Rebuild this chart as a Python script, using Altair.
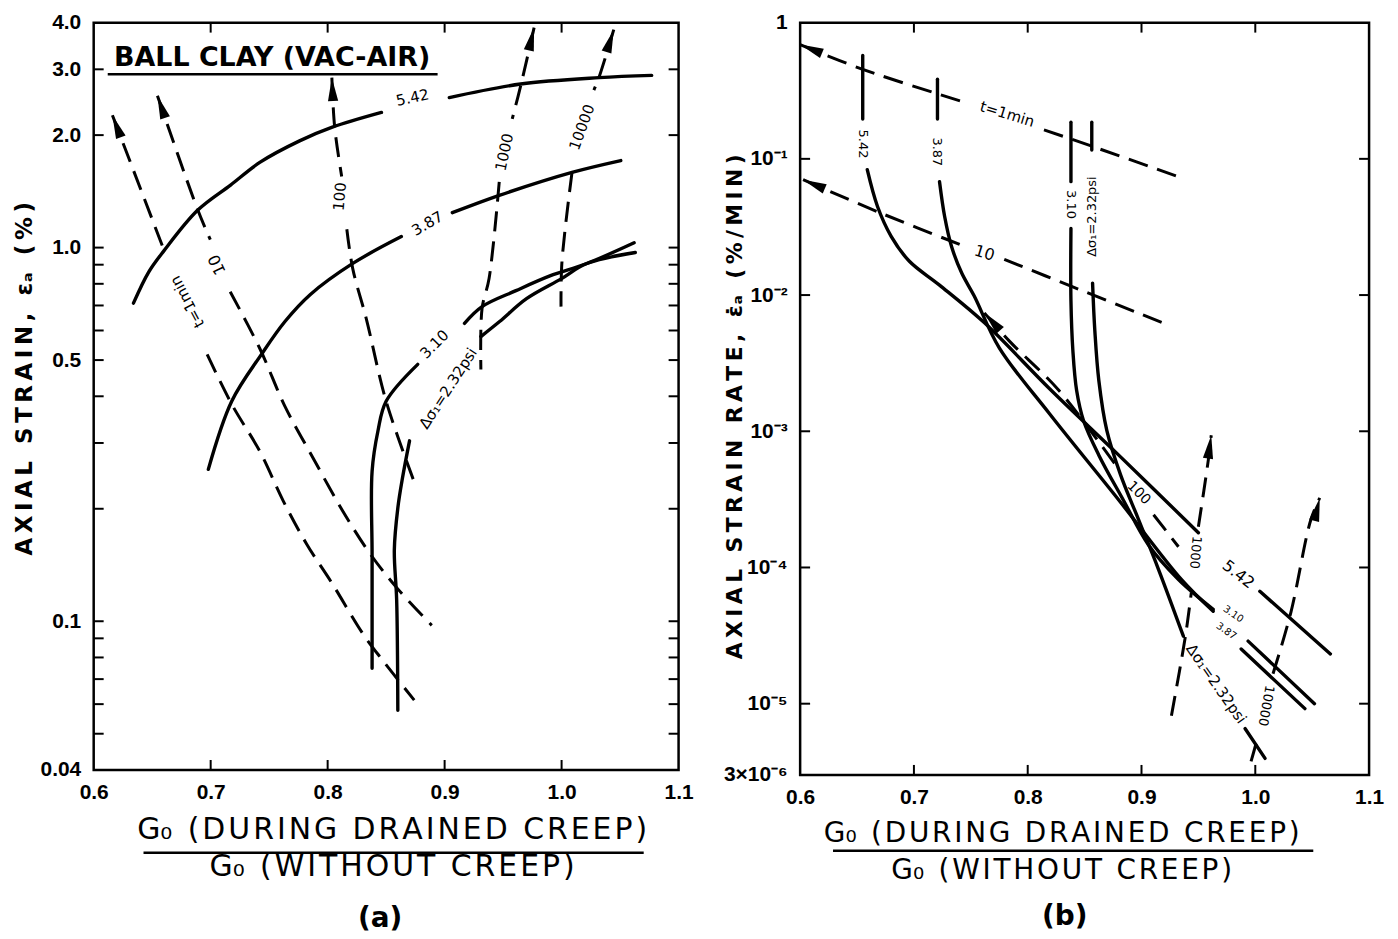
import unicodedata
import altair as alt
import pandas as pd

# ================= panel (a): axial strain vs Go ratio =================
# solid curves: stress level (psi); s = segment id (gap where a label sits)
A542_g = [0.634, 0.647, 0.660, 0.689, 0.717, 0.742, 0.776, 0.804, 0.846, 0.904, 0.965, 1.032, 1.077]
A542_v = [0.71, 0.86, 0.98, 1.26, 1.47, 1.69, 1.93, 2.10, 2.30, 2.52, 2.74, 2.85, 2.89]
A542_s = [0, 0, 0, 0, 0, 0, 0, 0, 0, 1, 1, 1, 1]

A387_g = [0.698, 0.718, 0.744, 0.7635, 0.785, 0.8215, 0.863, 0.9066, 0.9467, 1.0089, 1.0506]
A387_v = [0.255, 0.388, 0.521, 0.634, 0.748, 0.907, 1.07, 1.24, 1.38, 1.59, 1.71]
A387_s = [0, 0, 0, 0, 0, 0, 0, 1, 1, 1, 1]

A310_g = [0.838, 0.838, 0.838, 0.843, 0.850, 0.877, 0.917, 0.932, 0.961, 0.990, 1.021, 1.062]
A310_v = [0.0748, 0.15, 0.252, 0.323, 0.388, 0.487, 0.627, 0.695, 0.767, 0.84, 0.905, 1.03]
A310_s = [0, 0, 0, 0, 0, 0, 1, 1, 1, 1, 1, 1]

A232_g = [0.860, 0.859, 0.857, 0.860, 0.864, 0.870, 0.931, 0.947, 0.970, 1.000, 1.021, 1.063]
A232_v = [0.0578, 0.114, 0.155, 0.201, 0.242, 0.304, 0.578, 0.634, 0.73, 0.826, 0.905, 0.97]
A232_s = [0, 0, 0, 0, 0, 0, 1, 1, 1, 1, 1, 1]

# dashed curves: elapsed time (min)
AT1_g = [0.616, 0.660, 0.697, 0.718, 0.742, 0.762, 0.782, 0.804, 0.830, 0.847, 0.874]
AT1_v = [2.26, 0.986, 0.518, 0.381, 0.285, 0.210, 0.161, 0.126, 0.0927, 0.0786, 0.0615]
AT1_s = [0, 0, 1, 1, 1, 1, 1, 1, 1, 1, 1]

AT10_g = [0.6545, 0.6886, 0.6997, 0.7167, 0.742, 0.7635, 0.7874, 0.813, 0.836, 0.859, 0.889]
AT10_v = [2.55, 1.27, 1.05, 0.762, 0.537, 0.376, 0.274, 0.197, 0.152, 0.123, 0.0975]
AT10_s = [0, 0, 0, 1, 1, 1, 1, 1, 1, 1, 1]

AT100_g = [0.8036, 0.806, 0.812, 0.8164, 0.8215, 0.833, 0.850, 0.876]
AT100_v = [2.85, 2.10, 1.55, 1.12, 0.877, 0.646, 0.388, 0.227]
AT100_s = [0, 0, 0, 1, 1, 1, 1, 1]

AT1000_g = [0.9765, 0.9654, 0.9578, 0.9467, 0.938, 0.932, 0.931]
AT1000_v = [3.88, 2.74, 2.21, 1.50, 0.826, 0.687, 0.472]
AT1000_s = [0, 0, 0, 1, 1, 1, 1]

AT10000_g = [1.0446, 1.0319, 1.0276, 1.0089, 1.0003, 0.9995]
AT10000_v = [3.83, 2.85, 2.64, 1.59, 0.916, 0.695]
AT10000_s = [0, 0, 0, 1, 1, 1]

# arrow heads (tip position and direction, degrees clockwise from up)
AARR_g = [0.616, 0.6545, 0.8036, 0.9765, 1.0446]
AARR_v = [2.26, 2.55, 2.85, 3.88, 3.83]
AARR_a = [339, 341, 357, 13, 18]

# curve labels
ALAB_t = ["5.42", "3.87", "3.10", "Δσ₁=2.32psi", "t=1min", "10", "100", "1000", "10000"]
ALAB_g = [0.8726, 0.8853, 0.8913, 0.9030, 0.680, 0.7056, 0.8104, 0.951, 1.0174]
ALAB_v = [2.52, 1.16, 0.551, 0.420, 0.716, 0.90, 1.37, 1.80, 2.10]
ALAB_a = [348, 330, 315, 303, 242, 245, 275, 282, 290]
ALAB_s = [15, 15, 15, 15, 15, 16, 15, 15, 15]

A_YLAB = [4, 3, 2, 1, 0.5, 0.1, 0.04]
A_YTICK = [3, 2, 1, 0.9, 0.8, 0.7, 0.6, 0.5, 0.4, 0.3, 0.2, 0.1, 0.09, 0.08, 0.07, 0.06, 0.05]

# ================= panel (b): axial strain rate vs Go ratio =================
B542_g = [0.655, 0.655, 0.659, 0.668, 0.680, 0.696, 0.7225, 0.762, 0.819, 0.880, 0.950, 1.004, 1.066]
B542_v = [0.574, 0.196, 0.0832, 0.0447, 0.0270, 0.0177, 0.01183, 0.00625, 0.00206, 0.000668, 0.000180, 6.68e-5, 2.32e-5]
B542_s = [0, 0, 1, 1, 1, 1, 1, 1, 1, 1, 1, 2, 2]

B387_g = [0.7207, 0.7207, 0.7225, 0.727, 0.733, 0.742, 0.753, 0.775, 0.819, 0.880, 0.935, 0.963, 0.9876, 1.0436]
B387_v = [0.384, 0.196, 0.0679, 0.0377, 0.0228, 0.0145, 0.00984, 0.0041, 0.00135, 0.000313, 8.17e-5, 4.77e-5, 2.52e-5, 9.2e-6]
B387_s = [0, 0, 1, 1, 1, 1, 1, 1, 1, 1, 1, 1, 2, 2]

B310_g = [0.838, 0.838, 0.838, 0.838, 0.8397, 0.843, 0.849, 0.8625, 0.884, 0.906, 0.9325, 0.963, 0.9937, 1.052]
B310_v = [0.186, 0.068, 0.0308, 0.00904, 0.0039, 0.00199, 0.0012, 0.000668, 0.000313, 0.000147, 8.17e-5, 4.93e-5, 2.88e-5, 1.0e-5]
B310_s = [0, 0, 1, 1, 1, 1, 1, 1, 1, 1, 1, 1, 2, 2]

B232_g = [0.8563, 0.8563, 0.857, 0.859, 0.8625, 0.8695, 0.8817, 0.8975, 0.915, 0.9368, 0.991, 1.0086]
B232_v = [0.186, 0.116, 0.01224, 0.00546, 0.00236, 0.001016, 0.000477, 0.000224, 9.66e-5, 3.13e-5, 6.57e-6, 3.97e-6]
B232_s = [0, 0, 1, 1, 1, 1, 1, 1, 1, 1, 2, 2]

BT1_g = [0.600, 0.655, 0.7444, 0.8143, 0.838, 0.9325]
BT1_v = [0.69, 0.454, 0.2606, 0.163, 0.14, 0.0739]
BT1_s = [0, 0, 0, 1, 1, 1]

BT10_g = [0.6026, 0.674, 0.7444, 0.7794, 0.838, 0.921]
BT10_v = [0.0703, 0.039, 0.0228, 0.0183, 0.01163, 0.00614]
BT10_s = [0, 0, 0, 1, 1, 1]

BT100_g = [0.7619, 0.7837, 0.8275, 0.8773, 0.9106, 0.9325]
BT100_v = [0.0074, 0.00461, 0.00199, 0.000565, 0.000244, 0.000142]
BT100_s = [0, 0, 0, 0, 1, 1]

BT1000_g = [0.9263, 0.9386, 0.9438, 0.950, 0.9587, 0.9613]
BT1000_v = [8.17e-6, 3.13e-5, 6.57e-5, 0.000199, 0.000614, 0.000935]
BT1000_s = [0, 0, 0, 1, 1, 1]

BT10000_g = [0.9963, 1.0007, 1.0156, 1.0313, 1.0488, 1.0567]
BT10000_v = [3.77e-6, 5.1e-6, 1.66e-5, 4.69e-5, 0.000224, 0.000324]
BT10000_s = [0, 0, 1, 1, 1, 1]

BARR_g = [0.600, 0.6026, 0.7619, 0.9613, 1.0567]
BARR_v = [0.69, 0.0703, 0.0074, 0.000935, 0.000324]
BARR_a = [292, 293, 318, 8, 14]

BLAB_t = ["5.42", "3.87", "3.10", "Δσ₁=2.32psi", "t=1min", "10", "100", "1000", "10000",
          "5.42", "3.10", "3.87", "Δσ₁=2.32psi"]
BLAB_g = [0.655, 0.7207, 0.838, 0.8563, 0.782, 0.7619, 0.8975, 0.9473, 1.0094,
          0.985, 0.9806, 0.9745, 0.9657]
BLAB_v = [0.1286, 0.1125, 0.0462, 0.0377, 0.213, 0.0203, 0.000352, 0.000129, 9.66e-6,
          8.89e-5, 4.54e-5, 3.41e-5, 1.4e-5]
BLAB_a = [90, 90, 90, 270, 17, 17, 45, 95, 100, 38, 35, 35, 55]
BLAB_s = [13, 13, 13, 13, 15, 16, 14, 13, 13, 16, 10, 10, 15]

B_YLAB = [1, 0.1, 0.01, 0.001, 1e-4, 1e-5, 3e-6]
B_YTICK = [0.1, 0.01, 0.001, 1e-4, 1e-5]

X_LAB = [0.6, 0.7, 0.8, 0.9, 1.0, 1.1]
X_TICK = [0.7, 0.8, 0.9, 1.0]

# ================= styling =================
FONT_TICK = "Liberation Sans Narrow, Liberation Sans, Arial, sans-serif"
FONT_TITLE = "DejaVu Sans, sans-serif"
FONT_FRAC = "DejaVu Sans, sans-serif"
FONT_NOTE = "DejaVu Sans, sans-serif"
ARROW = "M0,0L-0.5,2.3L0.5,2.3Z"


def spaced(s, sep="\u2009"):
    out = ""
    for ch in s:
        if out and not unicodedata.combining(ch) and ch not in "ₐ₀":
            out += sep
        out += ch
    return out


def lines_df(curves):
    rows = []
    for name, gs, vs, ss in curves:
        for i, (g, v, s) in enumerate(zip(gs, vs, ss)):
            rows.append({"key": f"{name}|{s}", "i": i, "g": g, "v": v})
    return pd.DataFrame(rows)


def panel(solid_curves, dashed_curves, arr, lab, ylab, ytick, ydomain, ylabel_expr,
          ytitle, ytitle_size, ytitle_x, ytitle_y, xtitle_x, frac_size, W, H, bar,
          title, title_dx, title_off, extra=None):
    xaxis = alt.Axis(values=X_LAB, format=".1f", ticks=False, domain=False, grid=False,
                     labelFont=FONT_TICK, labelFontSize=21, labelFontWeight="bold",
                     labelColor="black", labelPadding=12, labelFlush=False, labelOverlap=False,
                     title=[spaced("G₀ (DURING DRAINED CREEP)", "\u200a"),
                            spaced("G₀ (WITHOUT CREEP)", "\u200a")],
                     titleFont=FONT_FRAC, titleFontSize=frac_size, titleFontWeight="normal",
                     titleColor="black", titleLineHeight=37, titlePadding=12, titleX=xtitle_x)
    yaxis = alt.Axis(values=ylab, labelExpr=ylabel_expr, ticks=False, domain=False, grid=False,
                     labelFont=FONT_TICK, labelFontSize=21, labelFontWeight="bold",
                     labelColor="black", labelPadding=13, labelOverlap=False,
                     title=spaced(ytitle), titleFont=FONT_TITLE, titleFontSize=ytitle_size,
                     titleFontWeight="bold", titleColor="black", titleAngle=270,
                     titleX=ytitle_x, titleY=ytitle_y, titleAlign="center", titleBaseline="middle")
    X = alt.X("g:Q", scale=alt.Scale(domain=[0.6, 1.1], nice=False, zero=False), axis=xaxis)
    Y = alt.Y("v:Q", scale=alt.Scale(type="log", domain=ydomain, nice=False), axis=yaxis)

    solid = alt.Chart(lines_df(solid_curves)).mark_line(
        color="black", strokeWidth=3.4, interpolate="catmull-rom", strokeCap="round"
    ).encode(x=X, y=Y, detail="key:N", order="i:Q")
    dashed = alt.Chart(lines_df(dashed_curves)).mark_line(
        color="black", strokeWidth=3, strokeDash=[20, 10], interpolate="catmull-rom"
    ).encode(x=X, y=Y, detail="key:N", order="i:Q")
    arrows = alt.Chart(pd.DataFrame({"g": arr[0], "v": arr[1], "a": arr[2]})).mark_point(
        shape=ARROW, filled=True, color="black", opacity=1, size=420
    ).encode(x=X, y=Y, angle=alt.Angle("a:Q", scale=None))
    labels = alt.Chart(pd.DataFrame({"t": lab[0], "g": lab[1], "v": lab[2], "a": lab[3], "s": lab[4]})).mark_text(
        font=FONT_NOTE, color="black", align="center", baseline="middle"
    ).encode(x=X, y=Y, text="t:N", angle=alt.Angle("a:Q", scale=None), size=alt.Size("s:Q", scale=None))

    ytk = pd.DataFrame({"v": ytick})
    xtk = pd.DataFrame({"g": X_TICK})
    tk_l = alt.Chart(ytk).mark_rule(color="black", strokeWidth=2).encode(y=Y, x=alt.value(0), x2=alt.value(10))
    tk_r = alt.Chart(ytk).mark_rule(color="black", strokeWidth=2).encode(y=Y, x=alt.value(W - 10), x2=alt.value(W))
    tk_b = alt.Chart(xtk).mark_rule(color="black", strokeWidth=2).encode(x=X, y=alt.value(H - 10), y2=alt.value(H))
    tk_t = alt.Chart(xtk).mark_rule(color="black", strokeWidth=2).encode(x=X, y=alt.value(0), y2=alt.value(10))
    frac = alt.Chart(pd.DataFrame({"z": [0]})).mark_rule(color="black", strokeWidth=2.5).encode(
        x=alt.value(bar[0]), x2=alt.value(bar[1]), y=alt.value(bar[2]))

    layers = [solid, dashed, arrows, labels, tk_l, tk_r, tk_b, tk_t, frac]
    if extra is not None:
        layers += extra(X, Y)
    return alt.layer(*layers).properties(
        width=W, height=H,
        title=alt.TitleParams(title, orient="bottom", anchor="middle", frame="group",
                              font=FONT_TITLE, fontSize=28, fontWeight="bold", color="black",
                              offset=title_off, dx=title_dx))


def ball_clay(X, Y):
    note = alt.Chart(pd.DataFrame({"g": [0.7525], "v": [3.21], "t": ["BALL CLAY (VAC-AIR)"]})).mark_text(
        font=FONT_NOTE, fontSize=27, fontWeight="bold", color="black", align="center", baseline="middle"
    ).encode(x=X, y=Y, text="t:N")
    uline = alt.Chart(pd.DataFrame({"g": [0.612], "g2": [0.894], "v": [2.91]})).mark_rule(
        color="black", strokeWidth=2.5
    ).encode(x=X, x2="g2:Q", y=Y)
    return [note, uline]


A_EXPR = "datum.value >= 1 ? format(datum.value, '.1f') : format(datum.value, '~g')"
B_EXPR = ("datum.value > 0.5 ? '1' : datum.value > 0.05 ? '10⁻¹' : datum.value > 0.005 ? '10⁻²' : "
          "datum.value > 0.0005 ? '10⁻³' : datum.value > 0.00005 ? '10⁻⁴' : "
          "datum.value > 0.000005 ? '10⁻⁵' : '3×10⁻⁶'")

WA, HA = 587, 750
WB, HB = 571, 755

chart_a = panel(
    [("s542", A542_g, A542_v, A542_s), ("s387", A387_g, A387_v, A387_s),
     ("s310", A310_g, A310_v, A310_s), ("s232", A232_g, A232_v, A232_s)],
    [("t1", AT1_g, AT1_v, AT1_s), ("t10", AT10_g, AT10_v, AT10_s), ("t100", AT100_g, AT100_v, AT100_s),
     ("t1000", AT1000_g, AT1000_v, AT1000_s), ("t10000", AT10000_g, AT10000_v, AT10000_s)],
    (AARR_g, AARR_v, AARR_a), (ALAB_t, ALAB_g, ALAB_v, ALAB_a, ALAB_s),
    A_YLAB, A_YTICK, [0.04, 4], A_EXPR,
    "AXIAL STRAIN, εₐ (%)", 23, -69, 357, 299, 30, WA, HA, (50, 552, 833), "(a)", -6, 24,
    extra=ball_clay)

chart_b = panel(
    [("s542", B542_g, B542_v, B542_s), ("s387", B387_g, B387_v, B387_s),
     ("s310", B310_g, B310_v, B310_s), ("s232", B232_g, B232_v, B232_s)],
    [("t1", BT1_g, BT1_v, BT1_s), ("t10", BT10_g, BT10_v, BT10_s), ("t100", BT100_g, BT100_v, BT100_s),
     ("t1000", BT1000_g, BT1000_v, BT1000_s), ("t10000", BT10000_g, BT10000_v, BT10000_s)],
    (BARR_g, BARR_v, BARR_a), (BLAB_t, BLAB_g, BLAB_v, BLAB_a, BLAB_s),
    B_YLAB, B_YTICK, [3e-6, 1], B_EXPR,
    "AXIAL STRAIN RATE, ε̇ₐ (%/MIN)", 22, -66, 385, 262, 28, WB, HB, (33, 515, 831), "(b)", -20, 19)

chart = alt.hconcat(chart_a, chart_b, spacing=27).configure(
    padding={"left": 4, "top": 0, "right": 5, "bottom": 5}, background="white"
).configure_view(stroke="black", strokeWidth=2.5)

chart.save("out.html", embed_options={"renderer": "svg", "actions": False})
